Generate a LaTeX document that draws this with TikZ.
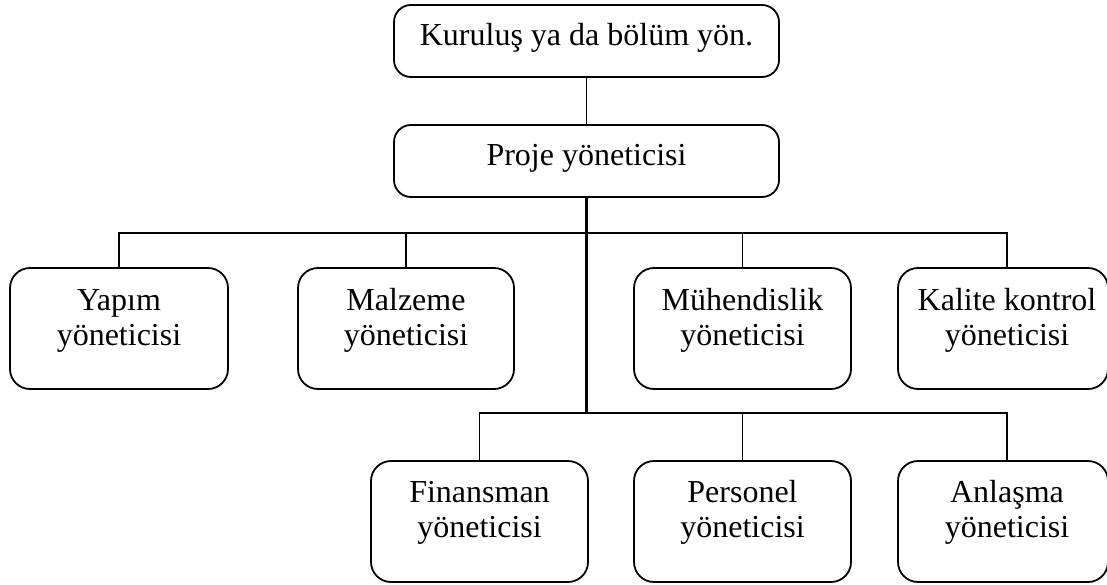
\documentclass[tikz,border=0pt]{standalone}
\usepackage{fontspec}
\setmainfont{Liberation Serif}
\begin{document}
\begin{tikzpicture}[x=1pt,y=-1pt,
  box/.style={draw, line width=1.8pt, rounded corners=17pt, inner sep=0pt},
  wide/.style={box, minimum width=385pt, minimum height=72pt},
  unit/.style={box, minimum width=217pt, minimum height=121pt, rounded corners=20pt},
  lbl/.style={anchor=base, inner sep=0pt, font=\fontsize{32}{38}\selectfont},
  link/.style={line width=1.6pt},
  bus/.style={line width=1.9pt},
  trunk/.style={line width=2.6pt}]
\useasboundingbox (0,0) rectangle (1107,584);
\fill[white] (0,0) rectangle (1107,584);

% top levels
\node[wide] (org) at (586.5,41) {};
\node[lbl] (orgT) at (586.5,45) {Kuruluş ya da bölüm yön.};
\node[wide] (pm) at (586.5,161) {};
\node[lbl] (pmT) at (586.5,165) {Proje yöneticisi};

% first row of managers
\node[unit, minimum width=218pt] (yapim) at (119,328.5) {};
\node[lbl] (yapimA) at (119,310) {Yapım};
\node[lbl] (yapimB) at (119,345) {yöneticisi};

\node[unit, minimum width=216pt] (malz) at (406,328.5) {};
\node[lbl] (malzA) at (406,310) {Malzeme};
\node[lbl] (malzB) at (406,345) {yöneticisi};

\node[unit] (muh) at (742.5,328.5) {};
\node[lbl] (muhA) at (742.5,310) {Mühendislik};
\node[lbl] (muhB) at (742.5,345) {yöneticisi};

\node[unit, minimum width=210pt] (kal) at (1003,328.5) {};
\node[lbl] (kalA) at (1007,310) {Kalite kontrol};
\node[lbl] (kalB) at (1007,345) {yöneticisi};

% second row of managers
\node[unit] (fin) at (479.5,521.5) {};
\node[lbl] (finA) at (479.5,502) {Finansman};
\node[lbl] (finB) at (479.5,537) {yöneticisi};

\node[unit] (per) at (742.5,521.5) {};
\node[lbl] (perA) at (742.5,502) {Personel};
\node[lbl] (perB) at (742.5,537) {yöneticisi};

\node[unit, minimum width=210pt] (anl) at (1003,521.5) {};
\node[lbl] (anlA) at (1007,502) {Anlaşma};
\node[lbl] (anlB) at (1007,537) {yöneticisi};

% bus coordinates
\coordinate (busL) at (119,233);
\coordinate (busR) at (1007,233);
\coordinate (hub) at (586.5,413);
\coordinate (hubR) at (1007,413);

% connectors
\draw[link] (org.south) -- (pm.north);
\draw[trunk] (pm.south) -- (hub);
\draw[link] (yapim.north) -- (busL) -- (busR) -- (busR |- kal.north);
\draw[link] (malz.north) -- (malz.north |- busL);
\draw[link] (muh.north) -- (muh.north |- busL);
\draw[line width=2.4pt] (malz.north |- busL) -- (pm.south |- busL);
\draw[bus] (fin.north) -- (fin.north |- hub) -- (hubR) -- (hubR |- anl.north);
\draw[link] (per.north) -- (per.north |- hub);
\end{tikzpicture}
\end{document}
